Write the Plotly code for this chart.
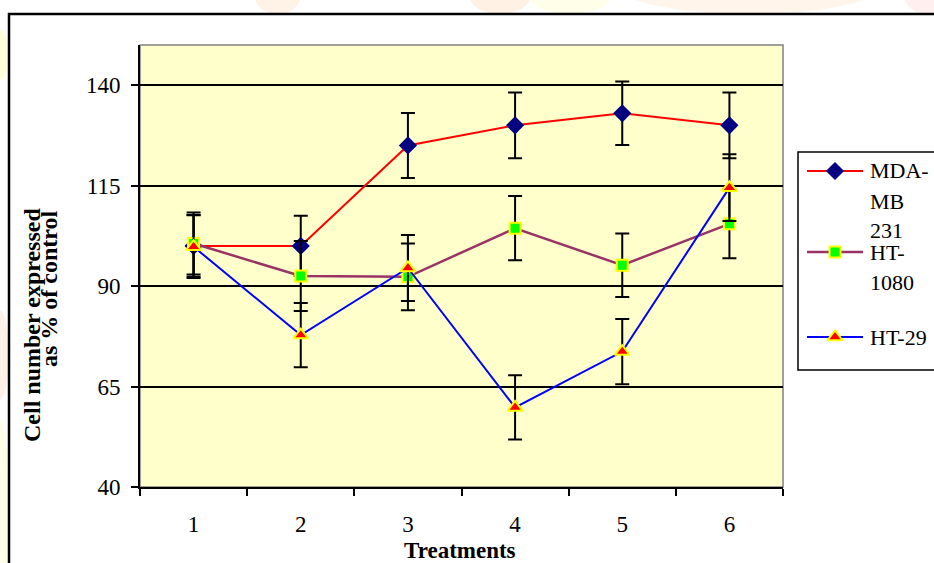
import plotly.graph_objects as go

# ---- data ---------------------------------------------------------------
treatments = [1, 2, 3, 4, 5, 6]
tick_labels = ["1", "2", "3", "4", "5", "6"]

mda_mb_231 = [100.0, 100.0, 125.0, 130.0, 133.0, 130.0]
mda_mb_231_err = [7.7, 7.5, 8.1, 8.2, 7.9, 8.2]

ht_1080 = [100.6, 92.5, 92.3, 104.4, 95.2, 105.5]
ht_1080_err = [7.7, 8.7, 8.3, 8.0, 7.9, 8.6]

ht_29 = [99.8, 77.8, 94.5, 59.8, 73.7, 114.5]
ht_29_err = [7.8, 8.0, 8.2, 8.0, 8.1, 8.3]

y_ticks = [40, 65, 90, 115, 140]

series_names = ["MDA-\nMB\n231", "HT-\n1080", "HT-29"]

# ---- page geometry (pixels) --------------------------------------------
W, H = 934, 563
PLOT_L, PLOT_R, PLOT_T, PLOT_B = 140, 783, 45, 487
SERIF = "Liberation Serif"


def px(x):
    return x / W


def py(y):
    return 1 - y / H


styles = [
    dict(line=dict(color="#FF0000", width=2),
         marker=dict(symbol="diamond", size=14, color="#000080",
                     line=dict(width=0))),
    dict(line=dict(color="#993366", width=2.5),
         marker=dict(symbol="square", size=11, color="#00FF00",
                     line=dict(color="#FFFF00", width=2))),
    dict(line=dict(color="#0000FF", width=2),
         marker=dict(symbol="triangle-up", size=13, color="#FF0000",
                     line=dict(color="#FFFF00", width=2))),
]

fig = go.Figure()

for vals, errs, st in zip([mda_mb_231, ht_1080, ht_29],
                          [mda_mb_231_err, ht_1080_err, ht_29_err], styles):
    fig.add_trace(go.Scatter(
        x=treatments, y=vals, mode="lines+markers",
        line=st["line"], marker=st["marker"],
        error_y=dict(type="data", array=errs, color="black",
                     thickness=2, width=7),
        showlegend=False, cliponaxis=False,
    ))

# ---- legend keys on a full-page overlay axis ---------------------------
legend_rows = [171, 252, 337]
for row, st in zip(legend_rows, styles):
    fig.add_trace(go.Scatter(
        x=[807, 863], y=[row, row], mode="lines", line=st["line"],
        xaxis="x2", yaxis="y2", showlegend=False, hoverinfo="skip"))
    fig.add_trace(go.Scatter(
        x=[835], y=[row], mode="markers", marker=st["marker"],
        xaxis="x2", yaxis="y2", showlegend=False, hoverinfo="skip"))

# ---- background shapes --------------------------------------------------
shapes = []
# faint decoration behind the chart frame
deco = [
    (255, -20, 300, 14, "#FFE3C8", 0.45),
    (470, -20, 530, 14, "#FFD8B0", 0.35),
    (530, -20, 610, 14, "#FFFFC0", 0.35),
    (620, -40, 880, 14, "#FFE2C6", 0.35),
    (905, -20, 950, 14, "#FFD6D6", 0.4),
    (-10, 30, 9, 80, "#FFFFD6", 0.8),
    (-10, 310, 9, 400, "#FFEDE2", 0.8),
    (-10, 420, 9, 600, "#FFFFE6", 0.9),
]
for x0, y0, x1, y1, c, op in deco:
    shapes.append(dict(type="circle", xref="paper", yref="paper",
                       x0=px(x0), x1=px(x1), y0=py(y0), y1=py(y1),
                       fillcolor=c, opacity=op, line=dict(width=0),
                       layer="below"))
# chart frame
shapes.append(dict(type="rect", xref="paper", yref="paper",
                   x0=px(9), x1=px(1000), y0=py(14), y1=py(700),
                   fillcolor="white", line=dict(color="black", width=2.5),
                   layer="below"))
# plot area
shapes.append(dict(type="rect", xref="paper", yref="paper",
                   x0=px(PLOT_L), x1=px(PLOT_R), y0=py(PLOT_B), y1=py(PLOT_T),
                   fillcolor="#FFFFCC", line=dict(color="#808080", width=1.5),
                   layer="below"))
# legend box
shapes.append(dict(type="rect", xref="paper", yref="paper",
                   x0=px(798), x1=px(1000), y0=py(152), y1=py(370),
                   fillcolor="white", line=dict(color="black", width=1.5),
                   layer="below"))

# ---- text ---------------------------------------------------------------
annotations = []
legend_lines = [171, 201.7, 230.7, 252.7, 282.3, 337.3]
legend_text = [ln for name in series_names for ln in name.split("\n")]
for yy, t in zip(legend_lines, legend_text):
    annotations.append(dict(text=t, x=px(868), y=py(yy), xref="paper",
                            yref="paper", xanchor="left", yanchor="middle",
                            showarrow=False,
                            font=dict(family=SERIF, size=22, color="black")))

annotations.append(dict(text="<b>Treatments</b>", x=px(460), y=py(550),
                        xref="paper", yref="paper", xanchor="center",
                        yanchor="middle", showarrow=False,
                        font=dict(family=SERIF, size=23, color="black")))
annotations.append(dict(text="<b>Cell number expressed</b>", x=px(32),
                        y=py(325), xref="paper", yref="paper",
                        xanchor="center", yanchor="middle", textangle=-90,
                        showarrow=False,
                        font=dict(family=SERIF, size=24, color="black")))
annotations.append(dict(text="<b>as % of control</b>", x=px(49),
                        y=py(289), xref="paper", yref="paper",
                        xanchor="center", yanchor="middle", textangle=-90,
                        showarrow=False,
                        font=dict(family=SERIF, size=24, color="black")))

boundaries = [t - 0.5 for t in treatments] + [treatments[-1] + 0.5]

fig.update_layout(
    template="none",
    width=W, height=H,
    margin=dict(l=0, r=0, t=0, b=0, pad=0, autoexpand=False),
    paper_bgcolor="white",
    plot_bgcolor="rgba(0,0,0,0)",
    showlegend=False,
    shapes=shapes,
    annotations=annotations,
    xaxis=dict(
        domain=[px(PLOT_L), px(PLOT_R)],
        range=[boundaries[0], boundaries[-1]],
        tickmode="array", tickvals=treatments, ticktext=tick_labels,
        ticks="", showgrid=False, zeroline=False,
        showline=True, linecolor="black", linewidth=2,
        tickfont=dict(family=SERIF, size=23, color="black"),
        ticklabelstandoff=15,
        minor=dict(tickmode="array", tickvals=boundaries, ticks="outside",
                   ticklen=7, tickwidth=2, tickcolor="black",
                   showgrid=False),
        automargin=False, fixedrange=True,
    ),
    yaxis=dict(
        domain=[py(PLOT_B), py(PLOT_T)],
        range=[40, 150],
        tickmode="array", tickvals=y_ticks,
        ticks="outside", ticklen=7, tickwidth=2, tickcolor="black",
        showgrid=True, gridcolor="black", gridwidth=2,
        zeroline=False,
        showline=True, linecolor="black", linewidth=2,
        tickfont=dict(family=SERIF, size=23, color="black"),
        ticklabelstandoff=6,
        automargin=False, fixedrange=True,
    ),
    xaxis2=dict(domain=[0, 1], range=[0, W], visible=False,
                anchor="y2", automargin=False, fixedrange=True),
    yaxis2=dict(domain=[0, 1], range=[H, 0], visible=False,
                anchor="x2", automargin=False, fixedrange=True),
)

fig.write_html("out.html", config={"displayModeBar": False})
